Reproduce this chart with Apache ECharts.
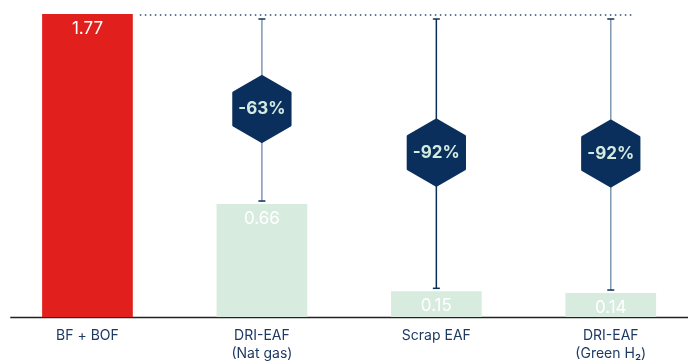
<!DOCTYPE html>
<html>
<head>
<meta charset="utf-8">
<script src="https://cdn.jsdelivr.net/npm/echarts@6/dist/echarts.min.js"></script>
<style>
html,body{margin:0;padding:0;background:#fff;overflow:hidden;width:688px;height:363px;}
#chart{width:698px;height:363px;}
</style>
</head>
<body>
<div id="chart"></div>
<script>
const categories = ['BF + BOF', 'DRI-EAF\n(Nat gas)', 'Scrap EAF', 'DRI-EAF\n(Green H₂)'];
const values = [1.77, 0.66, 0.15, 0.14];
const reductionLabels = ['', '-63%', '-92%', '-92%'];
const barColors = ['#e1201d', '#d8ebdf', '#d8ebdf', '#d8ebdf'];
const lineColors = ['', '#7f98b3', '#0b2d57', '#7f98b3'];

const FONT = 'Inter, "Noto Sans", sans-serif';
const NAVY = '#0a2f5c';
const baseValue = values[0];

const chart = echarts.init(document.getElementById('chart'), null, {renderer: 'canvas'});

const reductionData = values.map((v, i) => [i, v]).slice(1);

chart.setOption({
  animation: false,
  grid: {left: 0.25, top: 14, bottom: 45, right: 0},
  xAxis: {
    type: 'category',
    data: categories,
    axisLine: {show: false},
    axisTick: {show: false},
    axisLabel: {color: '#1e3a63', fontSize: 14, lineHeight: 18, margin: 10, fontFamily: FONT}
  },
  yAxis: {
    type: 'value', min: 0, max: baseValue,
    show: false, splitLine: {show: false}
  },
  series: [
    {
      type: 'bar',
      barWidth: '52%',
      data: values.map((v, i) => ({value: v, itemStyle: {color: barColors[i]}})),
      label: {
        show: true, position: 'insideTop', distance: 6,
        color: '#ffffff', fontSize: 17, fontFamily: FONT,
        formatter: p => p.value.toFixed(2)
      },
      z: 2
    },
    {
      type: 'custom',
      data: [[0, baseValue]],
      z: 1,
      renderItem: function (params, api) {
        const p0 = api.coord([0, api.value(1)]);
        const p3 = api.coord([3, api.value(1)]);
        const bw = api.size([1, 0])[0];
        const x1 = p0[0] + bw * 0.26 + 7;
        const x2 = p3[0] + 22;
        const base = api.coord([0, 0]);
        return {
          type: 'group',
          children: [
            {type: 'line', shape: {x1: x1, y1: p0[1] + 1, x2: x2, y2: p0[1] + 1},
             style: {stroke: '#2a4a75', lineWidth: 1.5, lineDash: [1.5, 3.5]}},
            {type: 'line', shape: {x1: p0[0] - bw / 2 + 10, y1: base[1] + 0.5, x2: api.getWidth(), y2: base[1] + 0.5},
             style: {stroke: '#222222', lineWidth: 1.5}}
          ]
        };
      }
    },
    {
      type: 'custom',
      data: reductionData,
      z: 3,
      renderItem: function (params, api) {
        const i = api.value(0);
        const v = api.value(1);
        const pTop = api.coord([i, baseValue]);
        const pBot = api.coord([i, v]);
        const mid = api.coord([i, (baseValue + v) / 2]);
        const x = pTop[0];
        const y1 = pTop[1] + 5;
        const y2 = pBot[1] - 3;
        const R = 32.5;
        const pts = [];
        for (let k = 0; k < 6; k++) {
          const a = Math.PI / 2 + k * Math.PI / 3;
          pts.push([x + R * Math.cos(a), mid[1] - R * Math.sin(a)]);
        }
        return {
          type: 'group',
          children: [
            {type: 'line', shape: {x1: x, y1: y1, x2: x, y2: y2},
             style: {stroke: lineColors[i], lineWidth: 1.5}},
            {type: 'line', shape: {x1: x - 3.5, y1: y1, x2: x + 3.5, y2: y1},
             style: {stroke: NAVY, lineWidth: 1.5}},
            {type: 'line', shape: {x1: x - 3.5, y1: y2, x2: x + 3.5, y2: y2},
             style: {stroke: NAVY, lineWidth: 1.5}},
            {type: 'polygon', shape: {points: pts},
             style: {fill: NAVY, stroke: NAVY, lineWidth: 3, lineJoin: 'round'}},
            {type: 'text',
             style: {text: reductionLabels[i], x: x, y: mid[1], align: 'center', verticalAlign: 'middle',
                     fill: '#d4ece0', fontSize: 17, fontWeight: 'bold', fontFamily: FONT}}
          ]
        };
      }
    }
  ]
});
</script>
</body>
</html>
